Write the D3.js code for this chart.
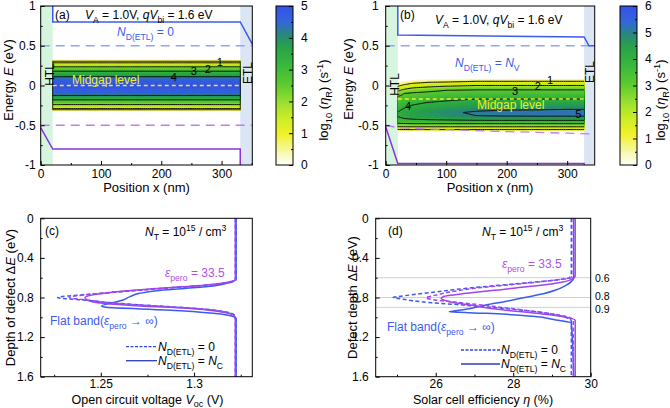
<!DOCTYPE html>
<html><head><meta charset="utf-8">
<script src="https://cdn.jsdelivr.net/npm/d3@7"></script>
<style>body{margin:0;background:#fff} text{font-family:"Liberation Sans",Arial,sans-serif}</style>
</head><body><svg id="c" width="670" height="408"></svg>
<script>
// ---------------- DATA ----------------
const posTicks = [0, 100, 200, 300];
const posMinor = [50, 150, 250, 350];
const energyTicks = [1, 0.5, 0, -0.5, -1];
const energyMinor = [0.75, 0.25, -0.25, -0.75];
const colorTicksA = [0, 1, 2, 3, 4, 5];
const colorTicksB = [0, 1, 2, 3, 4, 5, 6];
const depthTicks = [0, 0.4, 0.8, 1.2, 1.6];
const depthMinor = [0.2, 0.6, 1.0, 1.4];
const vocTicks = [1.25, 1.3];
const vocMinor = [1.225, 1.275, 1.325];
const effTicks = [26, 28, 30];
const effMinor = [25, 27, 29];
const effRefLines = [0.6, 0.8, 0.9];
const contourLevels = [1, 2, 3, 4, 5];

// colour map (fraction of colorbar max -> colour)
const cmapStops = [0, 0.08, 0.2, 0.3, 0.4, 0.5, 0.62, 0.74, 0.82, 0.9, 1];
const cmapColors = ['#ffffff','#f8f8b0','#eef01e','#c8ec20','#98e030','#62cc30','#3cba3c','#2aa448','#2a8a78','#3468d8','#3552ea'];

// panel (a): bands (x nm, E eV)
const aCB = [[20, 1.0], [20, 0.8], [331, 0.8], [351, 0.52]];
const aVB = [[0, -0.53], [20, -0.8], [331, -0.8], [331, -1.0]];
const aCBref = [[0, 0.5], [351, 0.5]];
const aVBref = [[0, -0.5], [351, -0.5]];
const aMidgap = [[20, 0], [331, 0]];
// panel (a): recombination-rate field, log10 rate vs defect level (flat band, same at every x)
const aFieldX = [20, 331];
const aFieldE = [0.325, 0.305, 0.285, 0.235, 0.18, 0.11, 0.07, 0, -0.085, -0.125, -0.18, -0.24, -0.29, -0.305, -0.325];
const aFieldV = [0.3, 0.8, 1, 2, 3, 4, 4.6, 5, 4.6, 4, 3, 2, 1, 0.8, 0.3];

// panel (b): bands
const bCB = [[20, 1.0], [20, 0.635], [328, 0.61], [336, 0.5], [345.5, 0.5]];
const bVB = [[0, -0.52], [20, -0.98], [328, -0.98], [328, -1.0]];
const bCBref = [[0, 0.5], [345.5, 0.5]];
const bVBref = [[0, -0.5], [20, -0.53], [60, -0.545], [100, -0.555], [150, -0.568], [200, -0.58], [250, -0.59], [300, -0.6], [345.5, -0.61]];
const bMidgap = [[20, -0.17], [328, -0.17]];
// panel (b): field, rows = defect level E, cols = position x
const bFieldX = [20, 30, 45, 70, 100, 150, 200, 250, 300, 328];
const bFieldE = [0.08, 0.06, 0.04, 0.02, 0.0, -0.03, -0.06, -0.10, -0.14, -0.18, -0.22, -0.26, -0.30, -0.34, -0.38, -0.42, -0.45, -0.48, -0.51, -0.54, -0.56, -0.58];
const bFieldV = [
  [0,0,0,0,0,0,0,0,0,0],
  [0,0,0.2,0.5,0.6,0.85,0.85,0.85,0.85,0.85],
  [0,0.4,0.75,1.0,1.09,1.27,1.27,1.27,1.27,1.27],
  [0.5,0.8,1.17,1.33,1.45,1.64,1.64,1.64,1.64,1.64],
  [0.83,1.17,1.5,1.67,1.82,2.0,2.0,2.0,2.0,2.0],
  [1.33,1.67,2.0,2.2,2.4,2.6,2.6,2.6,2.6,2.6],
  [1.83,2.2,2.6,2.8,3.0,3.08,3.08,3.08,3.08,3.08],
  [2.5,3.0,3.12,3.21,3.31,3.42,3.42,3.42,3.42,3.42],
  [3.05,3.22,3.37,3.5,3.62,3.75,3.75,3.75,3.75,3.75],
  [3.25,3.44,3.62,3.79,3.92,4.07,4.07,4.07,4.07,4.07],
  [3.45,3.67,3.87,4.05,4.15,4.33,4.36,4.36,4.36,4.36],
  [3.65,3.89,4.08,4.25,4.4,4.58,4.64,4.64,4.66,4.66],
  [3.85,4.07,4.28,4.45,4.65,4.85,4.93,4.95,5.0,5.0],
  [4.03,4.25,4.45,4.65,4.88,5.1,5.22,5.25,5.25,5.25],
  [4.05,4.25,4.45,4.6,4.8,5.0,5.07,5.1,5.1,5.1],
  [3.85,3.95,4.05,4.15,4.2,4.35,4.4,4.4,4.4,4.4],
  [3.5,3.6,3.65,3.7,3.75,3.75,3.75,3.75,3.75,3.75],
  [2.9,2.95,3.0,3.0,3.0,3.0,3.0,3.0,3.0,3.0],
  [2.2,2.25,2.25,2.25,2.25,2.25,2.25,2.25,2.25,2.25],
  [1.4,1.43,1.43,1.43,1.43,1.43,1.43,1.43,1.43,1.43],
  [0.8,0.83,0.83,0.83,0.83,0.83,0.83,0.83,0.83,0.83],
  [0,0,0,0,0,0,0,0,0,0]
];

// panel (c): Voc (V) vs defect depth (eV)
const cBlueSolidE = [0, 0.6, 0.623, 0.657, 0.683, 0.707, 0.731, 0.758, 0.791, 0.825, 0.859, 0.886, 0.899, 0.926, 0.96, 0.993, 1.02, 1.6];
const cBlueSolidV = [1.3225, 1.3225, 1.3221, 1.3174, 1.3103, 1.2960, 1.2799, 1.2709, 1.2656, 1.2620, 1.2549, 1.2504, 1.2531, 1.2852, 1.3103, 1.3210, 1.3225, 1.3225];
const cPurpleSolidE = [0, 0.6, 0.623, 0.64, 0.673, 0.707, 0.741, 0.768, 0.801, 0.825, 0.859, 0.886, 0.909, 0.943, 0.976, 1.01, 1.6];
const cPurpleSolidV = [1.3221, 1.3221, 1.3221, 1.3192, 1.3067, 1.2817, 1.2585, 1.2477, 1.2415, 1.2427, 1.2513, 1.2709, 1.2959, 1.3138, 1.3209, 1.3221, 1.3221];
const cPurpleDashE = [0, 0.6, 0.62, 0.64, 0.673, 0.707, 0.741, 0.768, 0.79, 0.80, 0.825, 0.859, 0.886, 0.909, 0.943, 0.976, 1.01, 1.6];
const cPurpleDashV = [1.3221, 1.3221, 1.3221, 1.3200, 1.3085, 1.2834, 1.2602, 1.2441, 1.2343, 1.2330, 1.2424, 1.2585, 1.2799, 1.2995, 1.3156, 1.3210, 1.3221, 1.3221];
const cBlueDashE = [0, 0.6, 0.62, 0.64, 0.673, 0.707, 0.741, 0.768, 0.785, 0.80, 0.815, 0.83, 0.859, 0.886, 0.909, 0.943, 0.976, 1.01, 1.6];
const cBlueDashV = [1.3225, 1.3225, 1.3225, 1.3205, 1.3090, 1.2840, 1.2610, 1.2445, 1.2320, 1.2268, 1.2330, 1.2440, 1.2590, 1.2810, 1.3005, 1.3165, 1.3215, 1.3225, 1.3225];

// panel (d): efficiency (%) vs defect depth (eV)
const dBlueSolidE = [0, 0.6, 0.64, 0.68, 0.725, 0.76, 0.8, 0.84, 0.876, 0.91, 0.935, 0.943, 0.95, 0.96, 0.99, 1.027, 1.06, 1.6];
const dBlueSolidEta = [29.56, 29.56, 29.5, 29.35, 29.1, 28.8, 28.3, 27.8, 27.3, 26.9, 26.5, 26.35, 26.6, 27.3, 28.5, 29.1, 29.5, 29.56];
const dPurpleSolidE = [0, 0.58, 0.62, 0.657, 0.707, 0.758, 0.79, 0.808, 0.842, 0.876, 0.919, 0.96, 0.994, 1.03, 1.6];
const dPurpleSolidEta = [29.6, 29.6, 29.5, 29.1, 28.0, 26.8, 26.2, 26.14, 26.35, 26.9, 27.6, 28.6, 29.3, 29.6, 29.6];
const dPurpleDashE = [0, 0.56, 0.6, 0.623, 0.657, 0.707, 0.758, 0.79, 0.80, 0.82, 0.842, 0.876, 0.919, 0.96, 0.99, 1.03, 1.6];
const dPurpleDashEta = [29.55, 29.55, 29.5, 29.1, 28.3, 27.0, 26.2, 25.85, 25.75, 25.9, 26.4, 27.2, 28.1, 28.9, 29.35, 29.55, 29.55];
const dBlueDashE = [0, 0.55, 0.6, 0.623, 0.657, 0.707, 0.758, 0.79, 0.80, 0.81, 0.842, 0.876, 0.919, 0.96, 1.0, 1.04, 1.6];
const dBlueDashEta = [29.5, 29.5, 29.45, 29.1, 28.2, 26.8, 25.7, 25.05, 24.9, 25.05, 25.6, 26.7, 28.0, 28.9, 29.35, 29.5, 29.5];

// ---------------- DRAWING ----------------
const BLUE = '#3b5bf0', PURPLE = '#a044ee', BLUE_L = '#90a6f2', PURPLE_L = '#c27cf2', YEL = '#eeee20';
const svg = d3.select('#c');
svg.append('rect').attr('width', 670).attr('height', 408).attr('fill', '#fff');
const defs = svg.append('defs');

function rich(g, x, y, parts, o = {}) {
  const size = o.size || 12;
  const t = g.append('text').attr('x', x).attr('y', y).attr('font-size', size)
    .attr('fill', o.fill || '#000').attr('text-anchor', o.anchor || 'start');
  if (o.rotate) t.attr('transform', `rotate(${o.rotate},${x},${y})`);
  let shift = 0;
  parts.forEach(([s, k]) => {
    k = k || '';
    const sp = t.append('tspan').text(s);
    let target = 0;
    if (k.includes('sub')) { target = 0.3; sp.attr('font-size', size * 0.72); }
    if (k.includes('sup')) { target = -0.4; sp.attr('font-size', size * 0.72); }
    if (k.startsWith('i')) sp.attr('font-style', 'italic');
    const dy = (target - shift) * size;
    if (dy) sp.attr('dy', dy);
    shift = target;
  });
  return t;
}

function styleAxis(s) {
  s.select('.domain').remove();
  s.attr('font-family', null).attr('font-size', null);
  s.selectAll('text').attr('font-size', 12).attr('fill', '#000');
  s.selectAll('line').attr('stroke', '#000');
}

function axes(g, xs, ys, o) {
  const yr = ys.range(), xr = xs.range();
  const top = Math.min(...yr), bottom = Math.max(...yr), left = xr[0], right = xr[1];
  const fmt = d => String(d);
  g.append('g').attr('transform', `translate(0,${bottom})`)
    .call(d3.axisBottom(xs).tickValues(o.xMinor).tickSizeInner(-2).tickSizeOuter(0).tickFormat('')).call(styleAxis);
  g.append('g').attr('transform', `translate(0,${bottom})`)
    .call(d3.axisBottom(xs).tickValues(o.xTicks).tickSizeInner(-4).tickSizeOuter(0).tickPadding(o.xPad || 6).tickFormat(fmt)).call(styleAxis);
  g.append('g').attr('transform', `translate(${left},0)`)
    .call(d3.axisLeft(ys).tickValues(o.yMinor).tickSizeInner(-2).tickSizeOuter(0).tickFormat('')).call(styleAxis);
  g.append('g').attr('transform', `translate(${left},0)`)
    .call(d3.axisLeft(ys).tickValues(o.yTicks).tickSizeInner(-4).tickSizeOuter(0).tickPadding(o.yPad || 6).tickFormat(fmt)).call(styleAxis);
  g.append('rect').attr('x', left).attr('y', top).attr('width', right - left).attr('height', bottom - top)
    .attr('fill', 'none').attr('stroke', '#000').attr('stroke-width', 1);
}

function cmap(vmax) {
  return d3.scaleLinear().domain(cmapStops.map(s => s * vmax)).range(cmapColors).clamp(true);
}

function colorbar(g, x, top, bottom, w, vmax, ticks, labelX, labelY) {
  const cs = d3.scaleLinear().domain([0, vmax]).range([bottom, top]);
  const col = cmap(vmax);
  const n = 160, st = vmax / n;
  d3.range(n).forEach(k => {
    const v = k * st;
    g.append('rect').attr('x', x).attr('y', cs(v + st)).attr('width', w)
      .attr('height', cs(v) - cs(v + st) + 0.6).attr('fill', col(v + st / 2));
  });
  g.append('g').attr('transform', `translate(${x + w},0)`)
    .call(d3.axisRight(cs).tickValues(d3.range(0.5, vmax, 1)).tickSizeInner(-2).tickSizeOuter(0).tickFormat('')).call(styleAxis);
  g.append('g').attr('transform', `translate(${x + w},0)`)
    .call(d3.axisRight(cs).tickValues(ticks).tickSizeInner(-4).tickSizeOuter(0).tickPadding(8).tickFormat(d => String(d))).call(styleAxis);
  g.append('rect').attr('x', x).attr('y', top).attr('width', w).attr('height', bottom - top)
    .attr('fill', 'none').attr('stroke', '#000');
  rich(g, labelX, labelY, [['log', ''], ['10', 'sub'], [' (', ''], ['η', 'i'], ['R', 'sub'], [') (s', ''], ['-1', 'sup'], [')', '']],
    { size: 13, anchor: 'middle', rotate: -90 });
}

let clipN = 0;
function drawField(g, xs, ys, cols, rows, mat, vmax) {
  const nx = 100, ny = 170;
  const xa = cols[0], xb = cols[cols.length - 1];
  const ea = rows[0], eb = rows[rows.length - 1];
  const sx = (xb - xa) / (nx - 1), se = (ea - eb) / (ny - 1);
  function sample(x, e) {
    const i = Math.min(Math.max(d3.bisectRight(cols, x) - 1, 0), cols.length - 2);
    const tx = (x - cols[i]) / (cols[i + 1] - cols[i]);
    let j = 0;
    while (j < rows.length - 2 && rows[j + 1] > e) j++;
    const te = Math.min(Math.max((rows[j] - e) / (rows[j] - rows[j + 1]), 0), 1);
    const a = mat[j][i] * (1 - tx) + mat[j][i + 1] * tx;
    const b = mat[j + 1][i] * (1 - tx) + mat[j + 1][i + 1] * tx;
    return a * (1 - te) + b * te;
  }
  const vals = [];
  for (let j = 0; j < ny; j++) for (let i = 0; i < nx; i++) vals.push(sample(xa + i * sx, ea - j * se));
  const proj = d3.geoTransform({ point(cx, cy) { this.stream.point(xs(xa + (cx - 0.5) * sx), ys(ea - (cy - 0.5) * se)); } });
  const path = d3.geoPath(proj);
  const id = 'fclip' + (clipN++);
  defs.append('clipPath').attr('id', id).append('rect')
    .attr('x', xs(xa)).attr('y', ys(ea)).attr('width', xs(xb) - xs(xa)).attr('height', ys(eb) - ys(ea));
  const cg = g.append('g').attr('clip-path', `url(#${id})`);
  const col = cmap(vmax);
  const step = 0.05;
  d3.contours().size([nx, ny]).thresholds(d3.range(0.03, vmax + 0.4, step))(vals)
    .forEach(c => cg.append('path').attr('d', path(c)).attr('fill', col(c.value + step / 2)).attr('stroke', col(c.value + step / 2)).attr('stroke-width', 0.3));
  d3.contours().size([nx, ny]).thresholds(contourLevels)(vals)
    .forEach(c => cg.append('path').attr('d', path(c)).attr('fill', 'none').attr('stroke', '#111').attr('stroke-width', 1));
}

function polyline(g, xs, ys, pts, stroke, w, dash) {
  const l = d3.line().x(d => xs(d[0])).y(d => ys(d[1]));
  const p = g.append('path').attr('d', l(pts)).attr('fill', 'none').attr('stroke', stroke).attr('stroke-width', w);
  if (dash) p.attr('stroke-dasharray', dash);
  return p;
}

function curve(g, xs, ys, es, vs, stroke, dash) {
  const pts = es.map((e, i) => [vs[i], e]);
  const l = d3.line().x(d => xs(d[0])).y(d => ys(d[1])).curve(d3.curveMonotoneY);
  const p = g.append('path').attr('d', l(pts)).attr('fill', 'none').attr('stroke', stroke).attr('stroke-width', 1.5);
  if (dash) p.attr('stroke-dasharray', dash);
}

// ---------- panel (a) ----------
{
  const g = svg.append('g');
  const xs = d3.scaleLinear().domain([0, 351]).range([40.7, 252.3]);
  const ys = d3.scaleLinear().domain([-1, 1]).range([165, 6]);
  g.append('rect').attr('x', xs(0)).attr('y', ys(1)).attr('width', xs(20) - xs(0)).attr('height', ys(-1) - ys(1)).attr('fill', '#d6f5de');
  g.append('rect').attr('x', xs(331)).attr('y', ys(1)).attr('width', xs(351) - xs(331)).attr('height', ys(-1) - ys(1)).attr('fill', '#dbe5f3');
  const mat = aFieldE.map((e, k) => aFieldX.map(() => aFieldV[k]));
  drawField(g, xs, ys, aFieldX, aFieldE, mat, 5);
  g.append('rect').attr('x', xs(20)).attr('y', ys(0.305)).attr('width', xs(331) - xs(20)).attr('height', ys(-0.305) - ys(0.305))
    .attr('fill', 'none').attr('stroke', '#222').attr('stroke-width', 0.9);
  polyline(g, xs, ys, aCBref, BLUE_L, 1.3, '9,6');
  polyline(g, xs, ys, aVBref, PURPLE_L, 1.3, '9,6');
  polyline(g, xs, ys, aCB, BLUE, 1.5);
  polyline(g, xs, ys, aVB, '#8a33dd', 1.5);
  polyline(g, xs, ys, aMidgap, YEL, 1.6, '4,3');
  g.append('text').attr('x', 72).attr('y', 83.5).attr('font-size', 12).attr('fill', YEL).text('Midgap level');
  [['1', 297, 0.29], ['2', 277, 0.205], ['3', 254, 0.18], ['4', 221, 0.105]].forEach(([t, x, e]) =>
    g.append('text').attr('x', xs(x)).attr('y', ys(e) + 4).attr('text-anchor', 'middle').attr('font-size', 11).text(t));
  g.append('text').attr('x', 54).attr('y', 74.5).attr('font-size', 12).attr('text-anchor', 'middle').attr('transform', 'rotate(-90,54,74.5)').text('HTL');
  g.append('text').attr('x', 252).attr('y', 73).attr('font-size', 12).attr('text-anchor', 'middle').attr('transform', 'rotate(-90,252,73)').text('ETL');
  axes(g, xs, ys, { xTicks: posTicks, xMinor: posMinor.filter(v => v < 351), yTicks: energyTicks, yMinor: energyMinor, xPad: 4, yPad: 5 });
  g.append('text').attr('x', 55).attr('y', 19).attr('font-size', 12).text('(a)');
  rich(g, 85, 19, [['V', 'i'], ['A', 'sub'], [' = 1.0V, ', ''], ['qV', 'i'], ['bi', 'sub'], [' = 1.6 eV', '']]);
  rich(g, 117, 36, [['N', 'i'], ['D(ETL)', 'sub'], [' = 0', '']], { fill: BLUE });
  rich(g, 13, 80, [['Energy ', ''], ['E', 'i'], [' (eV)', '']], { size: 13, anchor: 'middle', rotate: -90 });
  rich(g, 146.5, 191.5, [['Position x (nm)', '']], { size: 13, anchor: 'middle' });
  colorbar(g, 276, 6, 165, 17, 5, colorTicksA, 328, 100);
}

// ---------- panel (b) ----------
{
  const g = svg.append('g');
  const xs = d3.scaleLinear().domain([0, 345.5]).range([385.7, 594.7]);
  const ys = d3.scaleLinear().domain([-1, 1]).range([165, 6]);
  g.append('rect').attr('x', xs(0)).attr('y', ys(1)).attr('width', xs(20) - xs(0)).attr('height', ys(-1) - ys(1)).attr('fill', '#d6f5de');
  g.append('rect').attr('x', xs(328)).attr('y', ys(1)).attr('width', xs(345.5) - xs(328)).attr('height', ys(-1) - ys(1)).attr('fill', '#dbe5f3');
  drawField(g, xs, ys, bFieldX, bFieldE, bFieldV, 6);
  polyline(g, xs, ys, bCBref, BLUE_L, 1.3, '9,6');
  polyline(g, xs, ys, bVBref, PURPLE_L, 1.3, '9,6');
  polyline(g, xs, ys, bCB, BLUE, 1.5);
  polyline(g, xs, ys, bVB, '#8a33dd', 1.5);
  polyline(g, xs, ys, bMidgap, YEL, 1.6, '4,3');
  g.append('text').attr('x', 477).attr('y', 109).attr('font-size', 12).attr('fill', YEL).text('Midgap level');
  [['1', 550, 80], ['2', 537.7, 85.7], ['3', 515, 91], ['4', 408, 106], ['5', 578.3, 114.3]].forEach(([t, x, y]) =>
    g.append('text').attr('x', x).attr('y', y + 4).attr('text-anchor', 'middle').attr('font-size', 11).text(t));
  g.append('text').attr('x', 399).attr('y', 84.5).attr('font-size', 12).attr('text-anchor', 'middle').attr('transform', 'rotate(-90,399,84.5)').text('HTL');
  g.append('text').attr('x', 594).attr('y', 72).attr('font-size', 12).attr('text-anchor', 'middle').attr('transform', 'rotate(-90,594,72)').text('ETL');
  axes(g, xs, ys, { xTicks: posTicks, xMinor: posMinor.filter(v => v < 345), yTicks: energyTicks, yMinor: energyMinor, xPad: 4, yPad: 7 });
  g.append('text').attr('x', 400).attr('y', 19).attr('font-size', 12).text('(b)');
  rich(g, 435, 24, [['V', 'i'], ['A', 'sub'], [' = 1.0V, ', ''], ['qV', 'i'], ['bi', 'sub'], [' = 1.6 eV', '']]);
  rich(g, 455, 67, [['N', 'i'], ['D(ETL)', 'sub'], [' = ', ''], ['N', 'i'], ['V', 'sub']], { fill: BLUE });
  rich(g, 353, 79, [['Energy ', ''], ['E', 'i'], [' (eV)', '']], { size: 13, anchor: 'middle', rotate: -90 });
  rich(g, 490, 191.5, [['Position x (nm)', '']], { size: 13, anchor: 'middle' });
  colorbar(g, 620, 6, 165, 17, 6, colorTicksB, 665, 100);
}

// ---------- panel (c) ----------
{
  const g = svg.append('g');
  const xs = d3.scaleLinear().domain([1.2178, 1.3312]).range([40.7, 252.3]);
  const ys = d3.scaleLinear().domain([0, 1.6]).range([218.3, 376.7]);
  curve(g, xs, ys, cBlueSolidE, cBlueSolidV, BLUE);
  curve(g, xs, ys, cBlueDashE, cBlueDashV, BLUE, '4,2.5');
  curve(g, xs, ys, cPurpleSolidE, cPurpleSolidV, PURPLE);
  curve(g, xs, ys, cPurpleDashE, cPurpleDashV, PURPLE, '4,2.5');
  axes(g, xs, ys, { xTicks: vocTicks, xMinor: vocMinor, yTicks: depthTicks, yMinor: depthMinor, xPad: 3, yPad: 7 });
  g.append('text').attr('x', 45).attr('y', 235).attr('font-size', 12).text('(c)');
  rich(g, 145, 236, [['N', 'i'], ['T', 'sub'], [' = 10', ''], ['15', 'sup'], [' /  cm', ''], ['3', 'sup']]);
  rich(g, 165, 277, [['ε', 'i'], ['pero', 'sub'], [' = 33.5', '']], { fill: '#b050e8' });
  rich(g, 50, 325, [['Flat band(', ''], ['ε', 'i'], ['pero', 'sub'], [' → ∞)', '']], { fill: BLUE });
  g.append('line').attr('x1', 126).attr('x2', 157).attr('y1', 346.7).attr('y2', 346.7).attr('stroke', '#3346d8').attr('stroke-width', 1.3).attr('stroke-dasharray', '3,1.5');
  g.append('line').attr('x1', 126).attr('x2', 157).attr('y1', 360.7).attr('y2', 360.7).attr('stroke', '#2a3cc0').attr('stroke-width', 1.3);
  rich(g, 158, 351, [['N', 'i'], ['D(ETL)', 'sub'], [' = 0', '']]);
  rich(g, 158, 365, [['N', 'i'], ['D(ETL)', 'sub'], [' = ', ''], ['N', 'i'], ['C', 'sub']]);
  rich(g, 15, 297.5, [['Depth of defect Δ', ''], ['E', 'i'], [' (eV)', '']], { size: 13, anchor: 'middle', rotate: -90 });
  rich(g, 147.5, 403.5, [['Open circuit voltage ', ''], ['V', 'i'], ['oc', 'sub'], [' (V)', '']], { size: 12.5, anchor: 'middle' });
}

// ---------- panel (d) ----------
{
  const g = svg.append('g');
  const xs = d3.scaleLinear().domain([24.45, 30]).range([375.7, 590.7]);
  const ys = d3.scaleLinear().domain([0, 1.6]).range([218.3, 376.7]);
  const labelNudge = { 0.6: 0, 0.8: -1.2, 0.9: 1.4 };
  effRefLines.forEach(e => {
    g.append('line').attr('x1', xs(24.45)).attr('x2', xs(30)).attr('y1', ys(e)).attr('y2', ys(e)).attr('stroke', '#c9d0e2').attr('stroke-width', 1);
    g.append('text').attr('x', 595).attr('y', ys(e) + 3.8 + labelNudge[e]).attr('font-size', 10.5).text(String(e));
  });
  curve(g, xs, ys, dBlueSolidE, dBlueSolidEta, BLUE);
  curve(g, xs, ys, dBlueDashE, dBlueDashEta, BLUE, '4,2.5');
  curve(g, xs, ys, dPurpleSolidE, dPurpleSolidEta, PURPLE);
  curve(g, xs, ys, dPurpleDashE, dPurpleDashEta, PURPLE, '4,2.5');
  axes(g, xs, ys, { xTicks: effTicks, xMinor: effMinor, yTicks: depthTicks, yMinor: depthMinor, xPad: 3, yPad: 7 });
  g.append('text').attr('x', 388).attr('y', 235).attr('font-size', 12).text('(d)');
  rich(g, 482, 236, [['N', 'i'], ['T', 'sub'], [' = 10', ''], ['15', 'sup'], [' /  cm', ''], ['3', 'sup']]);
  rich(g, 502, 268, [['ε', 'i'], ['pero', 'sub'], [' = 33.5', '']], { fill: '#b050e8' });
  rich(g, 387, 331, [['Flat band(', ''], ['ε', 'i'], ['pero', 'sub'], [' → ∞)', '']], { fill: BLUE });
  g.append('line').attr('x1', 461).attr('x2', 500).attr('y1', 350).attr('y2', 350).attr('stroke', '#3346d8').attr('stroke-width', 1.3).attr('stroke-dasharray', '3,1.5');
  g.append('line').attr('x1', 461).attr('x2', 500).attr('y1', 364).attr('y2', 364).attr('stroke', '#2a3cc0').attr('stroke-width', 1.3);
  rich(g, 501, 354, [['N', 'i'], ['D(ETL)', 'sub'], [' = 0', '']]);
  rich(g, 501, 368, [['N', 'i'], ['D(ETL)', 'sub'], [' = ', ''], ['N', 'i'], ['C', 'sub']]);
  rich(g, 357, 297.5, [['Defect depth Δ', ''], ['E', 'i'], [' (eV)', '']], { size: 13, anchor: 'middle', rotate: -90 });
  rich(g, 483, 403.5, [['Solar cell efficiency ', ''], ['η', 'i'], [' (%)', '']], { size: 12.5, anchor: 'middle' });
}
</script>
</body></html>
